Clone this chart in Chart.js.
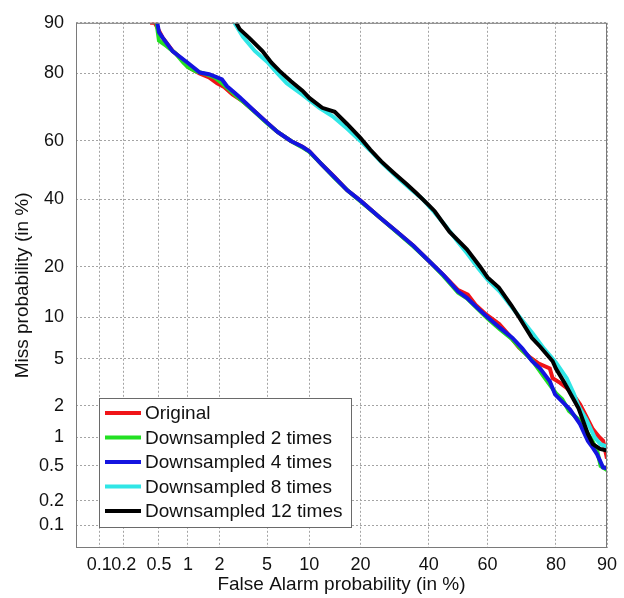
<!DOCTYPE html>
<html>
<head>
<meta charset="utf-8">
<script src="https://cdn.jsdelivr.net/npm/chart.js@4.4.1/dist/chart.umd.min.js"></script>
<style>
  body { margin:0; background:#fff; }
</style>
</head>
<body>
<canvas id="det" width="624" height="598"></canvas>
<script>
// DET curve values, all in percent
var tickVals = [0.1, 0.2, 0.5, 1, 2, 5, 10, 20, 40, 60, 80, 90]
var tickLabels = ["0.1","0.2","0.5","1","2","5","10","20","40","60","80","90"]

var seriesNames = ["Original","Downsampled 2 times","Downsampled 4 times","Downsampled 8 times","Downsampled 12 times"]
var seriesColors = ["#f01418","#22e022","#1414e0","#30e6e6","#000000"]

var origFa   = [0.4,0.45,0.55,0.7,0.9,1.0,1.3,1.6,1.9,2.2,2.6,3.2,4,5,6,7.5,9,10,12,14.4,17,20,25,30,35,40,45,50,53.3,56,59.6,63.8,67,70,73,75.6,78.5,79.2,81,82.5,84,85.3,86.5,87.7,88.8,89.4,90]
var origMiss = [90,90,87.5,85,83,81.5,80,79,77.5,76.5,74.5,72.5,69.5,66,63,60,58,56.5,52,47.5,43,39.5,34,29.5,25.5,21.5,18,14.8,13.9,12,10.4,9,7.5,6.1,5.2,4.6,4.2,3.5,3.2,2.9,2.5,2.07,1.6,1.2,1.0,0.92,0.6]

var ds2Fa   = [0.47,0.5,0.6,0.75,0.9,1.0,1.2,1.5,1.8,2.1,2.4,2.8,3.3,4,5,6,7.5,9,10,12,14.4,17,20,25,30,35,40,45,50,53,57,60,64,68,71,74,77,80,81.5,83,85,86.5,87.5,88.5,89,90]
var ds2Miss = [90,87,86,84.5,82.5,81.5,80.5,79.8,79,77.5,76,74,72,69.3,65.8,63,60,57.8,56.3,52,47.2,43,39.3,34,29.3,25.3,21.5,17.8,14.3,13.2,11.2,9.8,8.3,7,5.8,4.8,3.6,2.6,2.3,1.8,1.5,1.15,0.95,0.7,0.5,0.45]

var ds4Fa   = [0.48,0.5,0.55,0.7,0.98,1.31,1.6,1.9,2.1,2.33,2.7,3.0,3.5,4,5,6,7.5,9,10,12,14.4,17,20,25,30,35,40,45,50,53,57,60,64,68,71,73.8,76,78.5,79.8,82.1,83.2,85.3,86.8,87.7,88.4,88.9,89.4,90]
var ds4Miss = [90,88.5,87.5,84.9,82.6,80.2,79.8,79,78.5,76.7,75,73.7,71.5,69.5,66,63,60,58,56.5,52,47.4,43,39.5,34,29.5,25.5,21.5,18,14.5,13.3,11.3,10,8.5,7.2,6,4.8,4.2,3.3,2.54,2.07,1.86,1.35,0.92,0.78,0.67,0.57,0.48,0.47]

var ds8Fa   = [2.7,3.2,4,5,6,7,9,11.6,14,17,20,23,26,30,34,38,42,46,50,53,57,60,64,68,71,74,77,80,82.5,84,85,86.5,88,89,90]
var ds8Miss = [90,87.7,85,82.7,80,77.5,74.4,70.6,68,64,60,56,52,47.5,43.5,40,35.5,31,26.5,23.5,19.5,17,14.5,11.5,9.5,7.7,6,4.7,3.5,2.6,2.0,1.5,1.0,0.85,0.8]

var ds12Fa   = [2.8,3.0,3.6,4.6,5.4,6.2,7.5,9,10,12.1,14.4,17,20,22.5,25.4,29,33,36,40,42,47,53,57.5,60,63.7,67.6,70,73.7,76,79.2,80,82,83.5,85,85.8,86.8,87.7,88.9,90]
var ds12Miss = [90,89,87.5,85,82.5,80.6,78,75.5,73.5,70.6,69.4,65.5,61,57,53,49,45,42,38,36,29.6,24.5,20,17.5,15.3,12,10,7.2,6.2,4.8,4.2,3.2,2.5,1.9,1.5,1.08,0.85,0.76,0.73]

var faList = [origFa, ds2Fa, ds4Fa, ds8Fa, ds12Fa]
var missList = [origMiss, ds2Miss, ds4Miss, ds8Miss, ds12Miss]

// inverse normal CDF (Acklam)
function probit(p){
  var a=[-3.969683028665376e+01,2.209460984245205e+02,-2.759285104469687e+02,1.383577518672690e+02,-3.066479806614716e+01,2.506628277459239e+00]
  var b=[-5.447609879822406e+01,1.615858368580409e+02,-1.556989798598866e+02,6.680131188771972e+01,-1.328068155288572e+01]
  var c=[-7.784894002430293e-03,-3.223964580411365e-01,-2.400758277161838e+00,-2.549671618993250e+00,4.374664141464968e+00,2.938163982698783e+00]
  var d=[7.784695709041462e-03,3.224671290700398e-01,2.445134137142996e+00,3.754408661907416e+00]
  var plow=0.02425, q, r
  if(p<plow){
    q=Math.sqrt(-2*Math.log(p))
    return (((((c[0]*q+c[1])*q+c[2])*q+c[3])*q+c[4])*q+c[5])/((((d[0]*q+d[1])*q+d[2])*q+d[3])*q+1)
  }
  if(p<=1-plow){
    q=p-0.5; r=q*q
    return (((((a[0]*r+a[1])*r+a[2])*r+a[3])*r+a[4])*r+a[5])*q/(((((b[0]*r+b[1])*r+b[2])*r+b[3])*r+b[4])*r+1)
  }
  q=Math.sqrt(-2*Math.log(1-p))
  return -(((((c[0]*q+c[1])*q+c[2])*q+c[3])*q+c[4])*q+c[5])/((((d[0]*q+d[1])*q+d[2])*q+d[3])*q+1)
}

var zMin = -3.29
var zMax = probit(0.9)
var fontFam = "'Liberation Sans', Arial, sans-serif"

var datasets = []
for (var s=0; s<seriesNames.length; s++){
  var pts = []
  for (var i=0; i<faList[s].length; i++){
    pts.push({x: probit(faList[s][i]/100), y: probit(missList[s][i]/100)})
  }
  datasets.push({
    label: seriesNames[s],
    data: pts,
    borderColor: seriesColors[s],
    backgroundColor: seriesColors[s],
    borderWidth: 4,
    pointRadius: 0,
    fill: false,
    tension: 0,
    order: seriesNames.length - s
  })
}

function setTicks(scale){
  scale.ticks = tickVals.map(function(v){ return {value: probit(v/100)} })
}

var frameAndLegend = {
  id: 'frameAndLegend',
  afterDatasetsDraw: function(chart){
    var ctx = chart.ctx, ca = chart.chartArea
    ctx.save()
    ctx.strokeStyle = '#7a7a7a'
    ctx.lineWidth = 1
    ctx.strokeRect(ca.left+0.5, ca.top+0.5, ca.right-ca.left-1, ca.bottom-ca.top-1)

    // legend box inside lower-left of the plot
    var lx = ca.left + 23, ly = ca.bottom - 150, lw = 252, lh = 129
    ctx.fillStyle = '#fff'
    ctx.fillRect(lx, ly, lw, lh)
    ctx.strokeStyle = '#6a6a6a'
    ctx.strokeRect(lx+0.5, ly+0.5, lw, lh)
    ctx.font = '19px ' + fontFam
    ctx.textBaseline = 'middle'
    ctx.textAlign = 'left'
    for (var i=0; i<seriesNames.length; i++){
      var cy = ly + 15 + i*24.5
      ctx.strokeStyle = seriesColors[i]
      ctx.lineWidth = 4
      ctx.beginPath()
      ctx.moveTo(lx+6, cy)
      ctx.lineTo(lx+42, cy)
      ctx.stroke()
      ctx.fillStyle = '#111'
      ctx.fillText(seriesNames[i], lx+46, cy+1)
    }
    ctx.restore()
  }
}

var chart = new Chart(document.getElementById('det').getContext('2d'), {
  type: 'line',
  data: { datasets: datasets },
  options: {
    responsive: false,
    animation: false,
    devicePixelRatio: 1,
    layout: { padding: { top: 18, right: 17, left: 0, bottom: 0 } },
    plugins: { legend: { display: false }, tooltip: { enabled: false } },
    scales: {
      x: {
        type: 'linear',
        min: zMin, max: zMax,
        afterBuildTicks: setTicks,
        afterFit: function(scale){ scale.height = 50 },
        grid: { color: '#a4a4a4', lineWidth: 1, drawTicks: false },
        border: { display: false, dash: [2,2] },
        ticks: {
          autoSkip: false, maxRotation: 0, padding: 6,
          color: '#111', font: { family: fontFam, size: 18 },
          callback: function(v, i){ return tickLabels[i] }
        },
        title: { display: true, text: 'False Alarm probability (in %)', color: '#111',
                 font: { family: fontFam, size: 19 }, padding: { top: 0, bottom: 2 } }
      },
      y: {
        type: 'linear',
        min: zMin, max: zMax,
        afterBuildTicks: setTicks,
        afterFit: function(scale){ scale.width = 76 },
        grid: { color: '#a4a4a4', lineWidth: 1, drawTicks: false },
        border: { display: false, dash: [2,2] },
        ticks: {
          autoSkip: false, padding: 12,
          color: '#111', font: { family: fontFam, size: 18 },
          callback: function(v, i){ return tickLabels[i] }
        },
        title: { display: true, text: 'Miss probability (in %)', color: '#111',
                 font: { family: fontFam, size: 19 }, padding: { top: 11, bottom: 0 } }
      }
    }
  },
  plugins: [frameAndLegend]
})
</script>
</body>
</html>
